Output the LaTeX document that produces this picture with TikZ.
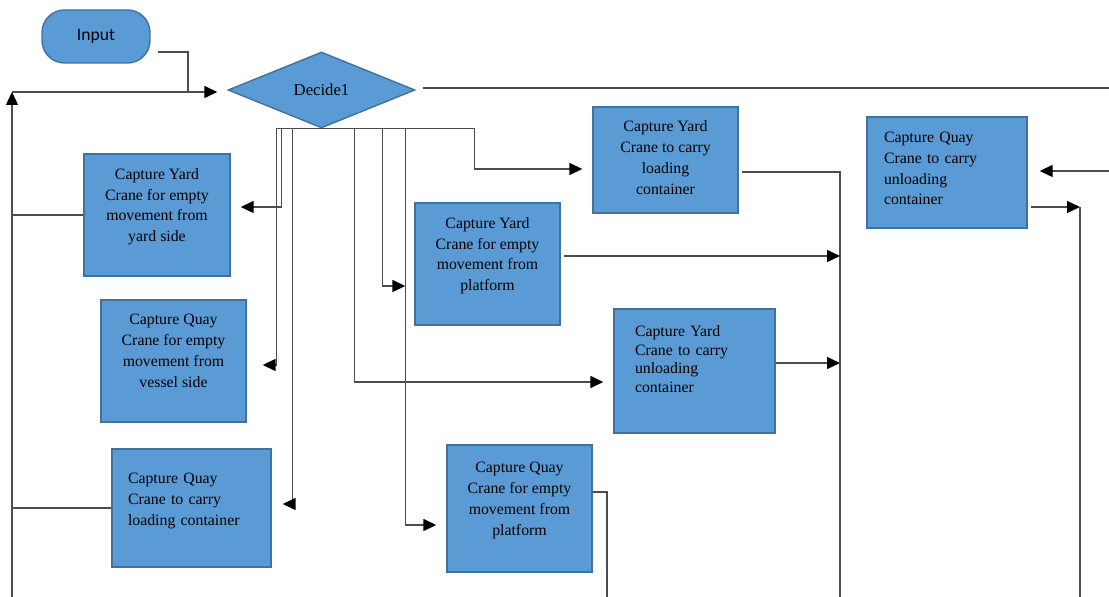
\documentclass[tikz,border=0pt]{standalone}
\usepackage{fontspec}
\setmainfont{Liberation Serif}
\newfontfamily\inputfont{Carlito}
\usepackage{xcolor}
\usepackage{tikz}
\usetikzlibrary{arrows.meta,shapes.geometric,calc}
\definecolor{boxblue}{HTML}{5B9BD5}
\definecolor{boxedge}{HTML}{41719C}

\begin{document}
\begin{tikzpicture}[x=0.02cm, y=-0.02cm, font=\fontsize{9}{11.9}\selectfont]
\tikzstyle{box}=[draw=boxedge, fill=boxblue, line width=0.8pt, align=center, minimum width=2.9cm, minimum height=2.44cm, text depth=0.4cm]
\tikzstyle{lbox}=[box, align=left]
\tikzstyle{term}=[draw=boxedge, fill=boxblue, line width=0.8pt, rounded corners=0.45cm, minimum width=2.16cm, minimum height=1.06cm, font=\inputfont\fontsize{10}{12}\selectfont]
\tikzstyle{decide}=[diamond, draw=boxedge, fill=boxblue, line width=0.8pt, inner sep=0pt, minimum width=3.74cm, minimum height=1.52cm, font=\fontsize{9.5}{11}\selectfont]
\tikzstyle{wire}=[draw=black!70, line width=0.8pt]
\tikzstyle{arr}=[wire, -{Triangle[length=2.6mm, width=2.4mm, color=black]}]

\fill[white] (0,0) rectangle (1109,597);
\useasboundingbox (0,0) rectangle (1109,597);

\node[term] (input) at (96,36.5) {Input};
\node[decide] (decide) at (321.5,90) {Decide1};

\node[box, minimum width=2.92cm] (yardE) at (157,215) {Capture Yard\\Crane for empty\\movement from\\yard side};
\node[box] (quayV) at (173.5,361) {Capture Quay\\Crane for empty\\movement from\\vessel side};
\node[lbox, minimum width=3.18cm, minimum height=2.36cm, text width=2.54cm, inner xsep=0.32cm, text depth=1.18cm] (quayL) at (191.5,508) {Capture Quay\\Crane to carry\\loading container};
\node[box] (yardP) at (487.5,264) {Capture Yard\\Crane for empty\\movement from\\platform};
\node[box, minimum height=2.12cm, text depth=0.1cm] (yardL) at (665.5,160) {Capture Yard\\Crane to carry\\loading\\container};
\node[lbox, minimum width=3.22cm, minimum height=2.48cm, text width=2.38cm, inner xsep=0.42cm, text depth=1.6cm, font=\fontsize{9}{10.6}\selectfont] (yardU) at (694.5,371) {Capture Yard\\Crane to carry\\unloading\\container};
\node[box, minimum height=2.54cm] (quayP) at (519.5,508.5) {Capture Quay\\Crane for empty\\movement from\\platform};
\node[lbox, minimum width=3.2cm, minimum height=2.22cm, text width=2.52cm, inner xsep=0.34cm, text depth=1.42cm] (quayU) at (947,172.5) {Capture Quay\\Crane to carry\\unloading\\container};

% loop back into the decision
\coordinate (loopT) at (12,92);
\coordinate (loopB) at (12,597);
\draw[arr] (loopB) -- (loopT);
\draw[arr, shorten >=0.2cm] (loopT) -- (loopT -| decide.west);
\draw[wire] ($(input.east)+(7,15.5)$) -| ($(loopT)+(176,0)$);
\draw[wire] (yardE.west) -- (yardE.west -| loopT);
\draw[wire] (quayL.west) -- (quayL.west -| loopT);

\coordinate (outR) at (1109,88);
\draw[wire] ($(decide.east)+(7,-2)$) -- (outR);

% branches below the decision
\draw[arr] (decide.south) -| ($(yardE.east)+(51,-8)$) -- ($(yardE.east)+(10,-8)$);
\draw[arr] (decide.south) -| ($(quayV.east)+(30,4)$) -- ($(quayV.east)+(16,4)$);
\draw[arr] (decide.south) -| ($(quayL.east)+(21,-4)$) -- ($(quayL.east)+(11,-4)$);
\draw[arr] (decide.south) -| ($(yardU.west)+(-259,11)$) -- ($(yardU.west)+(-10,11)$);
\draw[arr] (decide.south) -| ($(yardP.west)+(-32,22)$) -- ($(yardP.west)+(-9,22)$);
\draw[arr] (decide.south) -| ($(quayP.west)+(-41,16.5)$) -- ($(quayP.west)+(-10,16.5)$);
\draw[arr] (decide.south) -| ($(yardL.west)+(-118,9)$) -- ($(yardL.west)+(-10,9)$);

% outputs on the right
\coordinate (dropA) at (840,597);
\coordinate (dropB) at (607,597);
\coordinate (dropC) at (1080,597);
\coordinate (inR) at (1109,171);
\coordinate (pOut) at ($(yardP.east)+(3,-8)$);
\coordinate (uOut) at ($(yardU.east)+(0,-8)$);
\coordinate (qOut) at ($(quayU.east)+(3,34.5)$);

\draw[wire] ($(yardL.east)+(3,12)$) -| (dropA);
\draw[arr] (pOut) -- (pOut -| dropA);
\draw[arr] (uOut) -- (uOut -| dropA);
\draw[wire] ($(quayP.east)+(0,-16.5)$) -| (dropB);
\draw[arr, shorten >=0.24cm] (inR) -- (inR -| quayU.east);
\draw[arr] (qOut) -- (qOut -| dropC);
\draw[wire] (qOut -| dropC) -- (dropC);
\end{tikzpicture}
\end{document}
